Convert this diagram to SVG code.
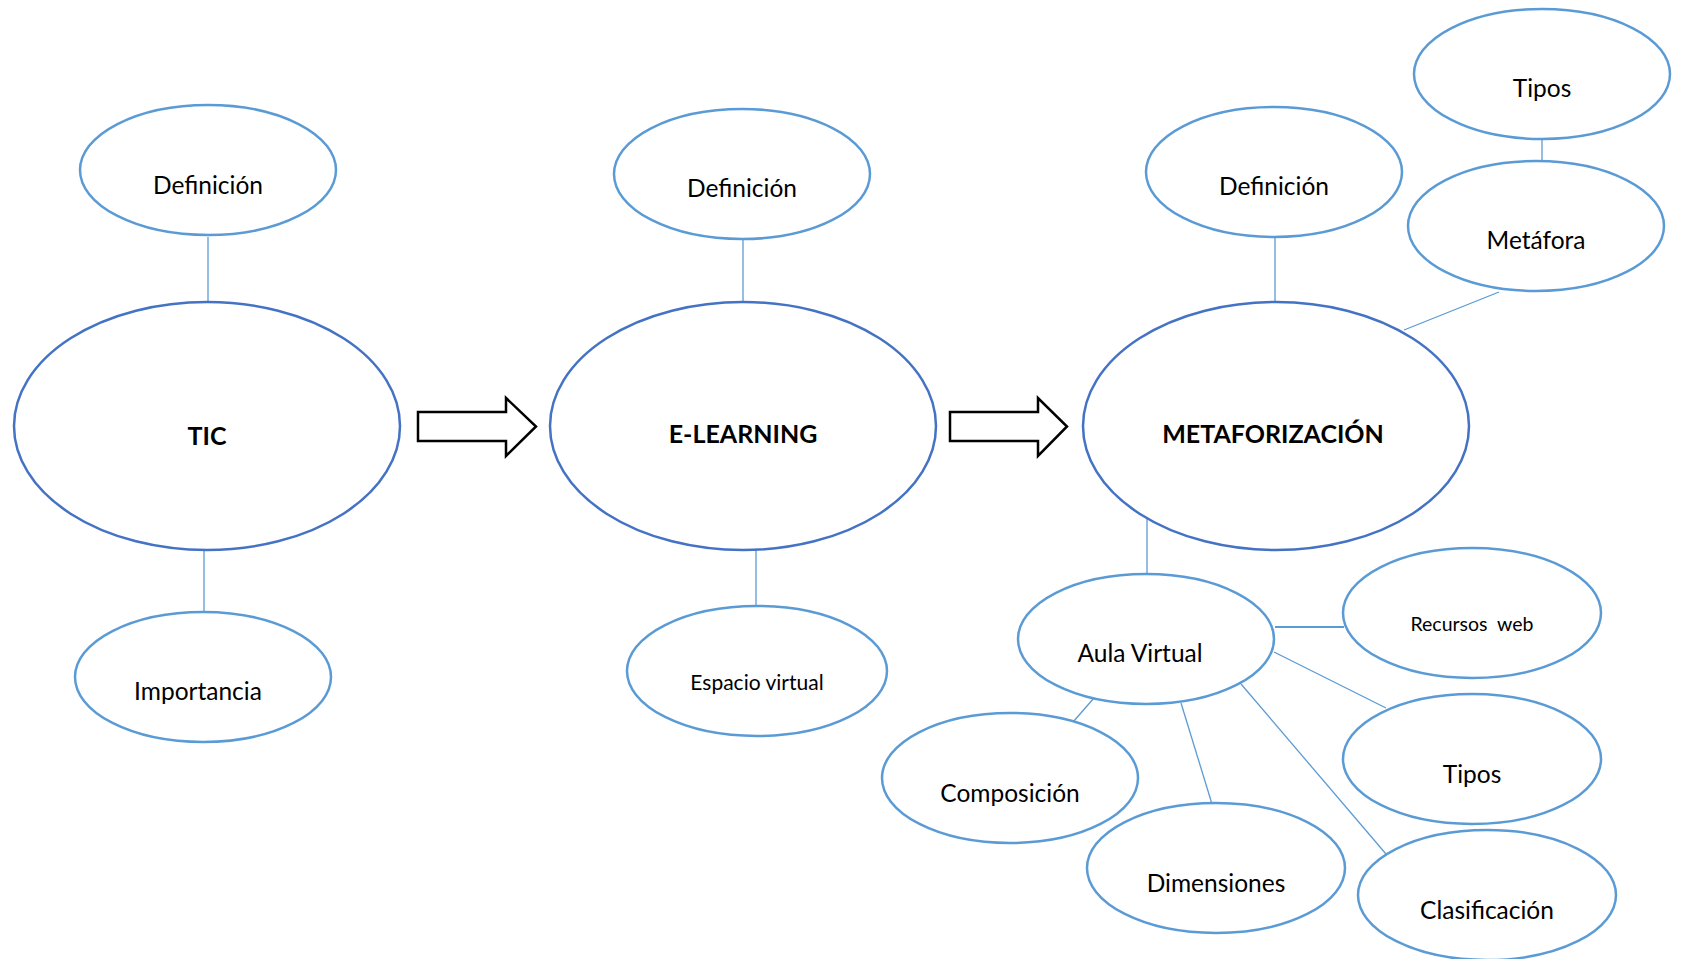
<svg xmlns="http://www.w3.org/2000/svg" width="1681" height="959" viewBox="0 0 1681 959">
<style>
.s{fill:#fff;stroke:#5B9BD5;stroke-width:2.5}
.b{fill:#fff;stroke:#4472C4;stroke-width:2.5}
.t{font-family:Lato,"Open Sans",sans-serif;font-size:24.5px;fill:#000;text-anchor:middle}
.ts{font-family:Lato,"Open Sans",sans-serif;font-size:19.5px;fill:#000;text-anchor:middle}
.tb{font-family:Lato,"Open Sans",sans-serif;font-size:25px;font-weight:bold;fill:#000;text-anchor:middle}
.c{stroke:#5B9BD5;stroke-width:1.3;fill:none}
.ar{fill:#fff;stroke:#000;stroke-width:2.5;stroke-linejoin:miter}
</style>
<rect width="1681" height="959" fill="#fff"/>
<g id="connectors">
<line class="c" x1="208" y1="237" x2="208" y2="302"/>
<line class="c" x1="204" y1="550" x2="204" y2="612"/>
<line class="c" x1="743" y1="240" x2="743" y2="302"/>
<line class="c" x1="756" y1="549" x2="756" y2="607"/>
<line class="c" x1="1275" y1="238" x2="1275" y2="302"/>
<line class="c" x1="1542" y1="139" x2="1542" y2="161"/>
<line class="c" x1="1499" y1="292" x2="1404" y2="330"/>
<line class="c" x1="1147" y1="515" x2="1147" y2="575"/>
<line class="c" x1="1275" y1="627" x2="1344" y2="627" style="stroke-width:2"/>
<line class="c" x1="1274" y1="652" x2="1386" y2="708"/>
<line class="c" x1="1094" y1="698" x2="1073" y2="722"/>
<line class="c" x1="1181" y1="703" x2="1212" y2="804"/>
<line class="c" x1="1241" y1="684" x2="1386" y2="854"/>
<path class="ar" d="M418,412 H506 V398 L536,426.5 L506,456 V441 H418 Z"/>
<path class="ar" d="M950,412 H1038 V398 L1067,426.5 L1038,456 V441 H950 Z"/>
</g>
<g id="tic-def"><ellipse class="s" cx="208" cy="170" rx="128" ry="65"/><text class="t" x="208" y="194">Definición</text></g>
<g id="tic"><ellipse class="b" cx="207" cy="426" rx="193" ry="124"/><text class="tb" x="207" y="445">TIC</text></g>
<g id="tic-imp"><ellipse class="s" cx="203" cy="677" rx="128" ry="65"/><text class="t" x="198" y="700">Importancia</text></g>
<g id="el-def"><ellipse class="s" cx="742" cy="174" rx="128" ry="65"/><text class="t" x="742" y="197">Definición</text></g>
<g id="elearning"><ellipse class="b" cx="743" cy="426" rx="193" ry="124"/><text class="tb" x="743" y="443">E-LEARNING</text></g>
<g id="el-esp"><ellipse class="s" cx="757" cy="671" rx="130" ry="65"/><text class="ts" x="757" y="690" style="font-size:21px">Espacio virtual</text></g>
<g id="met-def"><ellipse class="s" cx="1274" cy="172" rx="128" ry="65"/><text class="t" x="1274" y="195">Definición</text></g>
<g id="metaforizacion"><ellipse class="b" cx="1276" cy="426" rx="193" ry="124"/><text class="tb" x="1273" y="443">METAFORIZACIÓN</text></g>
<g id="met-tipos"><ellipse class="s" cx="1542" cy="74" rx="128" ry="65"/><text class="t" x="1542" y="97">Tipos</text></g>
<g id="met-metafora"><ellipse class="s" cx="1536" cy="226" rx="128" ry="65"/><text class="t" x="1536" y="249">Metáfora</text></g>
<g id="aula"><ellipse class="s" cx="1146" cy="639" rx="128" ry="65"/><text class="t" x="1140" y="662">Aula Virtual</text></g>
<g id="recursos"><ellipse class="s" cx="1472" cy="613" rx="129" ry="65"/><text class="ts" x="1472" y="631" xml:space="preserve">Recursos  web</text></g>
<g id="aula-tipos"><ellipse class="s" cx="1472" cy="759" rx="129" ry="65"/><text class="t" x="1472" y="783">Tipos</text></g>
<g id="composicion"><ellipse class="s" cx="1010" cy="778" rx="128" ry="65"/><text class="t" x="1010" y="802">Composición</text></g>
<g id="dimensiones"><ellipse class="s" cx="1216" cy="868" rx="129" ry="65"/><text class="t" x="1216" y="892">Dimensiones</text></g>
<g id="clasificacion"><ellipse class="s" cx="1487" cy="895" rx="129" ry="65"/><text class="t" x="1487" y="919">Clasificación</text></g>
</svg>
